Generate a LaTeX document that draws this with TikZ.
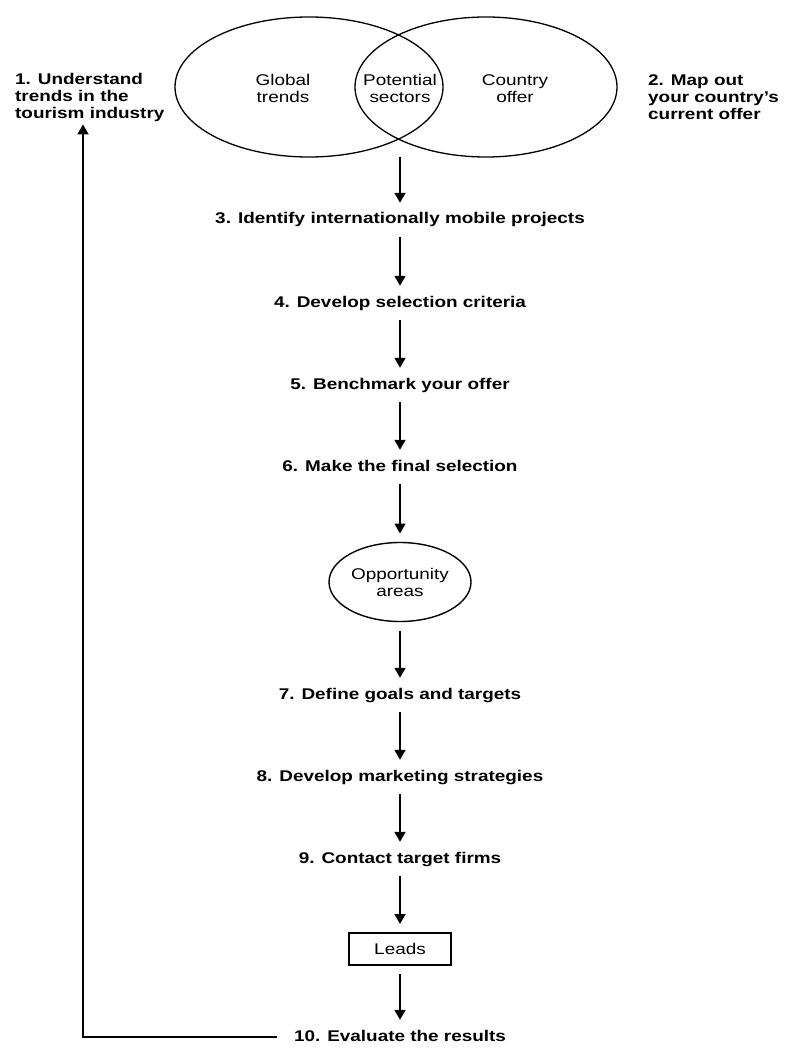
\documentclass[tikz,border=0pt]{standalone}
\usepackage{fontspec}
\setmainfont{Liberation Sans}[FakeStretch=1.22]
\usepackage{tikz}
\usetikzlibrary{shapes.geometric, arrows.meta}
\tikzset{
  stepnode/.style={
    font=\fontsize{15.5}{17}\selectfont\bfseries,
    inner xsep=17pt, inner ysep=10pt, text height=11pt, text depth=3pt
  },
  sidenote/.style={
    font=\fontsize{15.5}{17}\selectfont\bfseries,
    align=left, inner sep=3pt
  },
  vennset/.style={
    ellipse, draw, line width=1.3pt, inner sep=0pt
  },
  venntext/.style={
    font=\fontsize{15.5}{17}\selectfont, align=center
  },
  outcome/.style={
    draw, line width=1.4pt, align=center, inner sep=0pt, outer sep=9pt,
    font=\fontsize{15.5}{17}\selectfont
  },
  stagearrow/.style={
    -{Triangle[length=10pt, width=11pt]}, line width=1.8pt
  },
}

\begin{document}
\begin{tikzpicture}[x=1pt, y=-1pt]
  \useasboundingbox (0,0) rectangle (785,1048);

  % ── Venn of trends and offer ───────────────────────────────────
  \node[vennset, minimum width=268pt, minimum height=140pt]
    (globalset) at (309,87) {};
  \node[vennset, minimum width=262pt, minimum height=140pt]
    (countryset) at (486,87) {};
  \node[venntext] (globallab) at (283,88.5) {Global\\trends};
  \node[venntext] (potentiallab) at (400,88.5) {Potential\\sectors};
  \node[venntext] (countrylab) at (515,88.5) {Country\\offer};
  \coordinate (vennbase) at (400,157);

  % ── Side notes ─────────────────────────────────────────────────
  \node[sidenote, anchor=west] (understand) at (12,97)
    {1. Understand\\trends in the\\tourism industry};
  \node[sidenote, anchor=west] (mapout) at (645,97)
    {2. Map out\\your country's\\current offer};

  % ── Steps ──────────────────────────────────────────────────────
  \node[stepnode] (identify) at (400,220)
    {3. Identify internationally mobile projects};
  \node[stepnode] (criteria) at (400,303) {4. Develop selection criteria};
  \node[stepnode] (benchmark) at (400,385) {5. Benchmark your offer};
  \node[stepnode] (selection) at (400,467) {6. Make the final selection};
  \node[outcome, ellipse, minimum width=142pt, minimum height=79pt]
    (opportunity) at (400,582) {Opportunity\\areas};
  \node[stepnode] (goals) at (400,695) {7. Define goals and targets};
  \node[stepnode] (marketing) at (400,777) {8. Develop marketing strategies};
  \node[stepnode] (contact) at (400,859) {9. Contact target firms};
  \node[outcome, rectangle, minimum width=102pt, minimum height=32pt]
    (leads) at (400,949) {Leads};
  \node[stepnode] (evaluate) at (400,1037) {10. Evaluate the results};

  % ── Flow arrows ────────────────────────────────────────────────
  \draw[stagearrow] (vennbase) -- (identify);
  \foreach \from/\to in {identify/criteria, criteria/benchmark,
      benchmark/selection, selection/opportunity, opportunity/goals,
      goals/marketing, marketing/contact, contact/leads, leads/evaluate}
    \draw[stagearrow] (\from) -- (\to);

  % feedback loop back to step 1
  \coordinate (loopcorner) at (83,1037);
  \draw[stagearrow]
    (evaluate.west) -- (loopcorner) -- (understand.south -| loopcorner);
\end{tikzpicture}
\end{document}
